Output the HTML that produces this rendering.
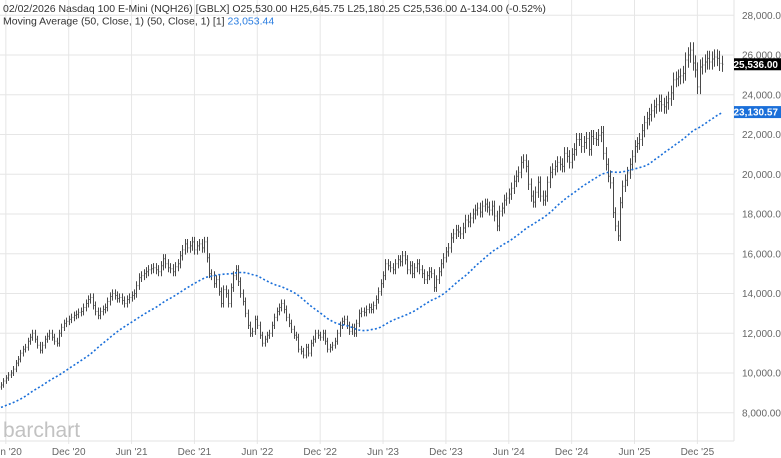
<!DOCTYPE html>
<html><head><meta charset="utf-8">
<style>
body{margin:0;background:#fff;font-family:"Liberation Sans",sans-serif;}
#wrap{position:relative;width:781px;height:458px;overflow:hidden;}
svg{position:absolute;left:0;top:0;}
</style></head>
<body>
<div id="wrap">
<svg id="chart" width="781" height="458">
  <g id="grid"></g>
  <text x="3" y="437" font-size="21" fill="#c2c2c2" font-family="Liberation Sans, sans-serif">barchart</text>
  <g id="bars"></g>
  <path id="ma" fill="none" stroke="#1a6fd9" stroke-width="1.6" stroke-dasharray="2,2.2"></path>
  <line x1="734" y1="0" x2="734" y2="441" stroke="#e3e3e3"/>
  <line x1="0" y1="441" x2="734" y2="441" stroke="#e3e3e3"/>
  <g id="yaxis"></g>
  <g id="xaxis"></g>
  <g id="tags"></g>
  <text x="3" y="12" font-size="10.5" fill="#333">02/02/2026 Nasdaq 100 E-Mini (NQH26) [GBLX] O25,530.00 H25,645.75 L25,180.25 C25,536.00 Δ-134.00 (-0.52%)</text>
  <text x="3" y="24.5" font-size="10.5" fill="#333">Moving Average (50, Close, 1)  (50, Close, 1) [1] <tspan fill="#2a7de1">23,053.44</tspan></text>
</svg>
</div>
<script>
const closes = [
9400,9600,9750,9900,10000,10200,10500,10700,11000,11200,
11300,11600,11800,12000,11700,11400,11150,11400,11700,11850,
12000,11800,11600,11500,12000,12300,12500,12600,12700,12800,
12900,12950,13050,13100,13300,13500,13700,13800,13400,13100,
12900,13100,13200,13300,13600,13850,14000,13900,13750,13800,
13650,13500,13700,13800,13900,14000,14400,14800,14900,15000,
15100,15200,15250,15300,15200,15100,15400,15750,15500,15300,
15250,15100,15350,15500,15900,16200,16500,16300,16400,16600,
16200,16400,16500,16300,16600,15800,15000,14900,14500,14700,
14100,13500,14200,14000,13500,14300,14900,15200,14600,14000,
13600,13000,12400,12000,12100,12700,12400,11900,11500,11700,
11900,12000,12400,12800,13100,13300,13500,13200,12800,12500,
12200,11900,11800,11200,11100,10900,11300,11000,11500,11700,
12000,11900,11800,12000,11600,11200,11300,11400,11600,12000,
12400,12600,12700,12400,12100,12300,12000,12500,13000,13100,
13050,13200,13300,13200,13400,13700,14100,14500,14900,15500,
15400,15300,15200,15500,15700,15600,15900,15700,15200,15400,
15000,15300,15500,15200,15000,14700,14900,15100,15000,14300,
14700,15100,15500,15800,16100,16300,16800,17000,17200,17100,
17000,17300,17700,17600,17800,18000,18200,18300,18100,18400,
18500,18350,18200,18400,17900,17400,18150,18300,18700,18800,
19000,19300,19650,19900,20100,20600,20700,20400,19500,18900,
18600,19100,19600,18900,18700,18900,19600,20100,20250,20400,
20600,20500,20400,21050,20900,20600,21000,21250,21750,21750,
21400,21600,21800,21250,21900,21800,21750,21950,22100,21050,
20500,19900,19570,18070,17400,16900,18570,19400,19700,20070,
20500,20900,21400,21550,21750,22200,22600,22800,23000,23200,
23400,23500,23660,23500,23400,23600,23800,24100,24750,24800,
24900,24950,25080,25750,26000,26250,25600,25250,24400,25400,
25500,25650,25830,25650,25800,25900,25830,25580,25536];
const preHistory = [
7200,7350,7500,7600,7700,7850,7900,7850,7700,7500,
7650,7600,7700,7800,7750,7600,7700,7650,7850,8000,
8100,8200,8250,8300,8350,8400,8550,8700,8800,8900,
8850,9000,9200,9300,9500,9600,9000,8400,7800,7500,
7700,8100,8300,8800,8900,9000,8800,9100,9300];
const firstOpen = 9300;
const yTicks = [28000,26000,24000,22000,20000,18000,16000,14000,12000,10000,8000];
const xTickLabels = ["Jun '20","Dec '20","Jun '21","Dec '21","Jun '22","Dec '22","Jun '23","Dec '23","Jun '24","Dec '24","Jun '25","Dec '25"];
const xTickWeeks = [2,28,54,80,106,132,158,184,210,236,262,288];
const lastPrice = 25536.00;
const maLabel = 23130.57;

const NS="http://www.w3.org/2000/svg";
const yS = v => 15.3 + (28000 - v) * 0.019875;
const xS = i => 1 + i * 2.418;
function mk(tag, attrs, parent){const e=document.createElementNS(NS,tag);for(const k in attrs)e.setAttribute(k,attrs[k]);parent.appendChild(e);return e;}
const fmt = v => v.toLocaleString('en-US',{minimumFractionDigits:2,maximumFractionDigits:2});

const grid=document.getElementById('grid'), yax=document.getElementById('yaxis'), xax=document.getElementById('xaxis');
yTicks.forEach(v=>{
  const gl=mk('line',{x1:0,x2:734,y1:yS(v),y2:yS(v),stroke:'#e6e6e6'},grid);
  
  
  const t=mk('text',{x:742,y:yS(v)+3.5,'font-size':'10',fill:'#666'},yax);
  t.textContent=fmt(v);
  
  
});
xTickWeeks.forEach((w,k)=>{
  const x=xS(w);
  const gl=mk('line',{x1:x,x2:x,y1:0,y2:444,stroke:'#e6e6e6'},grid);
  
  
  const t=mk('text',{x:x,y:455,'font-size':'10','text-anchor':'middle',fill:'#666'},xax);
  t.textContent=xTickLabels[k];
  
  
});

const bars=document.getElementById('bars');
closes.forEach((c,i)=>{
  const o = i===0 ? firstOpen : closes[i-1];
  const hi=Math.max(o,c)*1.015, lo=Math.min(o,c)*0.985;
  const x=Math.round(xS(i))+0.5;
  const g=mk('g',{stroke:'#4a4a4a','stroke-width':'1'},bars);
  
  
  mk('line',{x1:x,x2:x,y1:yS(hi),y2:yS(lo)},g);
  mk('line',{x1:x-1,x2:x,y1:yS(o),y2:yS(o),'stroke-opacity':'0.6'},g);
  mk('line',{x1:x,x2:x+1,y1:yS(c),y2:yS(c),'stroke-opacity':'0.6'},g);
});

const all=preHistory.concat(closes);
let d='';
closes.forEach((c,i)=>{
  const j=i+preHistory.length;
  let s=0;for(let k=j-49;k<=j;k++)s+=all[k];
  const m=s/50;
  d+=(i?'L':'M')+xS(i).toFixed(1)+','+yS(m).toFixed(1);
});
document.getElementById('ma').setAttribute('d',d);

const tags=document.getElementById('tags');
function tag(v,bg,name){
  const y=yS(v);
  const r=mk('rect',{x:734,y:y-6,width:47,height:12,fill:bg},tags);
  
  
  const t=mk('text',{x:778,y:y+3.6,'font-size':'10','font-weight':'bold','text-anchor':'end',fill:'#fff'},tags);
  t.textContent=fmt(v);
  
  
}
tag(lastPrice,'#000','last-price-label');
tag(maLabel,'#1a6fd9','moving-average-label');
</script>
</body></html>
